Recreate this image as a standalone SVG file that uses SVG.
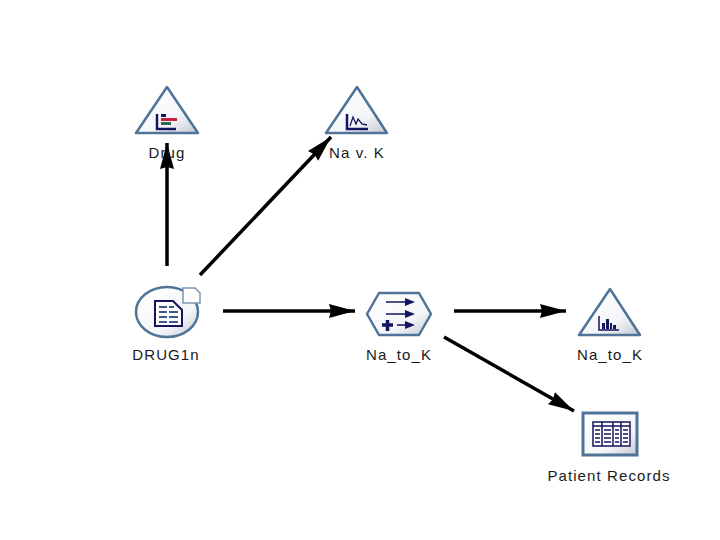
<svg xmlns="http://www.w3.org/2000/svg" width="720" height="540" viewBox="0 0 720 540">
<style>
.lb{font-family:"Liberation Sans",Arial,sans-serif;font-size:15px;letter-spacing:1.1px;fill:#1a1a1a;text-anchor:middle}
.sh{stroke:#4f7498;stroke-width:2.500;stroke-linejoin:round;fill:url(#g)}
.ic{fill:none;stroke:#14145f;stroke-width:2.500}
.cn{stroke:#000;stroke-width:3.500;fill:none;marker-end:url(#a)}
</style>
<defs>
<linearGradient id="g" x1="0.2" y1="0.1" x2="1" y2="1"><stop offset="0" stop-color="#fff"/><stop offset="0.6" stop-color="#f4f5f8"/><stop offset="1" stop-color="#c4c7d2"/></linearGradient>
<marker id="a" markerUnits="userSpaceOnUse" markerWidth="28" markerHeight="18" refX="26" refY="9" orient="auto"><path d="M0 2 L26 9 L0 16 L2 9 Z" fill="#000"/></marker>
</defs>
<rect width="720" height="540" fill="#fff"/>
<g id="connectors">
<line class="cn" x1="167" y1="266" x2="167" y2="143"/>
<line class="cn" x1="200" y1="275" x2="331" y2="137"/>
<line class="cn" x1="223" y1="311" x2="355" y2="311"/>
<line class="cn" x1="454" y1="311" x2="566" y2="311"/>
<line class="cn" x1="444" y1="337" x2="574" y2="411"/>
</g>
<g id="drug">
<path class="sh" d="M167 87 L198 133 L136 133 Z"/>
<path d="M157 114 V129 H176" class="ic"/>
<rect x="161" y="114" width="5" height="3" fill="#14145f"/>
<rect x="161" y="118" width="16" height="3" fill="#c8203c"/><rect x="161" y="122" width="10" height="3" fill="#2f6a4a"/>
<text class="lb" x="167" y="158">Drug</text>
</g>
<g id="na-v-k">
<path class="sh" d="M357 87 L387 133 L326 133 Z"/>
<path d="M347 114 V129 H368" class="ic"/>
<path d="M350 126 L353 117 L356 124 L358 119 L362 124 L367 125" fill="none" stroke="#14145f" stroke-width="1.300"/>
<text class="lb" x="357" y="158">Na v. K</text>
</g>
<g id="drug1n">
<ellipse class="sh" cx="167" cy="312" rx="31" ry="25"/>
<path d="M155 301 H173 L182 310 V326 H155 Z" fill="#fff" stroke="#14145f" stroke-width="2"/>
<path d="M159 307 h8 M169 307 h5 M159 312 h8 M169 312 h9 M159 317 h8 M169 317 h9 M159 322 h8 M169 322 h9" stroke="#3a5a8a" stroke-width="2"/>
<path d="M183 288 H195 L200 293 V303 H183 Z" fill="#fff" stroke="#7a98b4" stroke-width="1.500"/>
<text class="lb" x="166" y="360">DRUG1n</text>
</g>
<g id="na-to-k-derive">
<path class="sh" d="M379 293 H419 L431 314 L419 335 H379 L367 314 Z"/>
<path d="M386 302 H412 M386 314 H412 M397 325 H412" stroke="#14145f" stroke-width="1.500"/>
<path d="M405 298 L415 302 L405 306 Z M405 310 L415 314 L405 318 Z M405 321 L415 325 L405 329 Z" fill="#14145f"/>
<path d="M382 325 H393 M387.500 320 V331" stroke="#14145f" stroke-width="3.500"/>
<text class="lb" x="399" y="360">Na_to_K</text>
</g>
<g id="na-to-k-hist">
<path class="sh" d="M610 289 L640 335 L579 335 Z"/>
<path d="M599 316 V330 H619" fill="none" stroke="#14145f" stroke-width="1.500"/>
<path d="M602 323h3v6h-3z M606 319h3v10h-3z M610 323h2v6h-2z M613 325h3v4h-3z" fill="#14145f"/>
<text class="lb" x="610" y="360">Na_to_K</text>
</g>
<g id="patient-records">
<rect x="583" y="413" width="54" height="42" fill="url(#g)" stroke="#4f7498" stroke-width="3"/>
<rect x="593" y="422" width="37" height="24" fill="#fff" stroke="#14145f" stroke-width="1.500"/>
<path d="M593 426 H630 M602 422 V446 M613 422 V446 M621 422 V446" stroke="#14145f" stroke-width="1.500"/>
<path d="M595 430 h5 M604 430 h7 M615 430 h4 M623 430 h5 M595 434 h5 M604 434 h7 M615 434 h4 M623 434 h5 M595 438 h5 M604 438 h7 M615 438 h4 M623 438 h5 M595 442 h5 M604 442 h7 M615 442 h4 M623 442 h5" stroke="#14145f" stroke-width="1.500"/>
<text class="lb" x="609" y="481">Patient Records</text>
</g>
</svg>
